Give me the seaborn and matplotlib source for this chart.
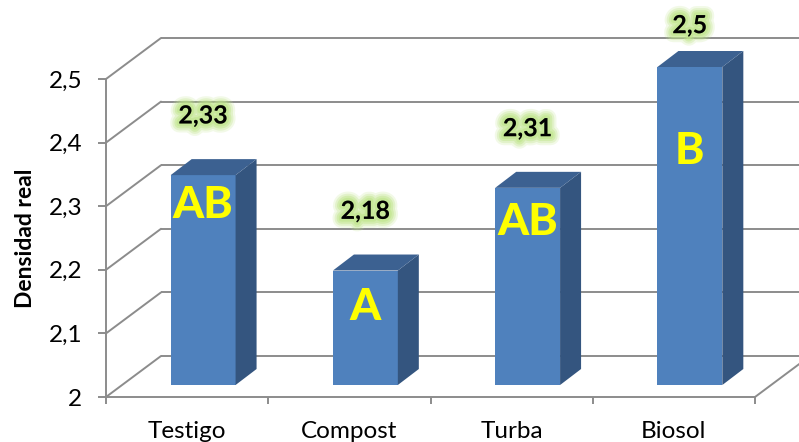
import matplotlib
matplotlib.use("Agg")
import matplotlib.pyplot as plt
import matplotlib.transforms as mtransforms
import matplotlib.patheffects as pe
from matplotlib.patches import Polygon
from matplotlib.lines import Line2D
import numpy as np
import pandas as pd
import seaborn as sns

# ---- data -------------------------------------------------------------
categories = ["Testigo", "Compost", "Turba", "Biosol"]
densidad = [2.33, 2.18, 2.31, 2.50]
value_labels = ["2,33", "2,18", "2,31", "2,5"]
grupos = ["AB", "A", "AB", "B"]
y_ticks = [2.0, 2.1, 2.2, 2.3, 2.4, 2.5]
y_tick_labels = ["2", "2,1", "2,2", "2,3", "2,4", "2,5"]

# ---- layout (pixels) --------------------------------------------------
W, H, DPI = 799, 442, 100
FRONT = (106, 45, 649, 318)      # front plane of the chart box: left, bottom, width, height
BAR_SHIFT = (16, 12)             # bars stand a little inside the floor
BAR_DEPTH = (21, 16)             # extrusion of each bar
WALL_DEPTH = (55, 41)            # depth of the floor / back wall
letter_drop = [0.047, 0.057, 0.054, 0.132]

FACE = "#4f81bd"
SIDE = "#34557f"
TOP = "#3c6191"
GRID = "#8c8c8c"
GLOW = "#bfe58a"

sns.set_theme(style="white")
plt.rcParams["font.family"] = ["Lato", "DejaVu Sans"]

fig = plt.figure(figsize=(W / DPI, H / DPI), dpi=DPI)
fig.patch.set_facecolor("white")


def px_rect(l, b, w, h):
    return [l / W, b / H, w / W, h / H]


ax = fig.add_axes(px_rect(*FRONT))
axb = fig.add_axes(px_rect(FRONT[0] + BAR_SHIFT[0], FRONT[1] + BAR_SHIFT[1],
                           FRONT[2], FRONT[3]))

df = pd.DataFrame({"Tratamiento": categories, "Densidad": densidad})
sns.barplot(data=df, x="Tratamiento", y="Densidad", ax=axb, width=0.4,
            color=FACE, saturation=1, edgecolor="none", zorder=3)

for a in (ax, axb):
    a.set_xlim(-0.5, len(categories) - 0.5)
    a.set_ylim(y_ticks[0], y_ticks[-1])
    a.patch.set_alpha(0)
axb.axis("off")
ax.set_zorder(0)
axb.set_zorder(1)

ident = mtransforms.IdentityTransform()
ymin = y_ticks[0]
xl, xr = ax.get_xlim()

# back wall gridlines and left-wall diagonals
wall = mtransforms.offset_copy(ax.transData, fig=fig, x=WALL_DEPTH[0],
                               y=WALL_DEPTH[1], units="dots")
for t in y_ticks:
    ax.plot([xl, xr], [t, t], transform=wall, color=GRID, lw=1.4,
            clip_on=False, zorder=0, solid_capstyle="butt")
    p0 = ax.transData.transform((xl, t))
    p1 = p0 + np.array(WALL_DEPTH)
    fig.add_artist(Line2D([p0[0], p1[0]], [p0[1], p1[1]], transform=ident,
                          color=GRID, lw=1.4, zorder=0))

# right edge of the floor
p0 = ax.transData.transform((xr, ymin))
p1 = p0 + np.array(WALL_DEPTH)
fig.add_artist(Line2D([p0[0], p1[0]], [p0[1], p1[1]], transform=ident,
                      color=GRID, lw=1.4, zorder=0))

# extrude the bars: side and top faces
D = np.array(BAR_DEPTH)
for patch, v in zip(axb.patches, densidad):
    x0 = patch.get_x()
    x1 = x0 + patch.get_width()
    tl = axb.transData.transform((x0, v))
    tr = axb.transData.transform((x1, v))
    br = axb.transData.transform((x1, ymin))
    side = Polygon([br, tr, tr + D, br + D], closed=True, transform=ident,
                   facecolor=SIDE, edgecolor="none", zorder=2)
    top = Polygon([tl, tr, tr + D, tl + D], closed=True, transform=ident,
                  facecolor=TOP, edgecolor="none", zorder=2)
    fig.add_artist(side)
    fig.add_artist(top)

# front axes: spines and ticks
for s in ("top", "right"):
    ax.spines[s].set_visible(False)
for s in ("left", "bottom"):
    ax.spines[s].set_color(GRID)
    ax.spines[s].set_linewidth(1.4)

ax.set_yticks(y_ticks, y_tick_labels)
ax.tick_params(axis="y", which="major", left=True, length=6, width=1.4,
               color=GRID, labelsize=17.5, pad=11, labelcolor="black")
ax.set_xticks(range(len(categories)), categories)
ax.set_xticks(np.arange(len(categories) + 1) - 0.5, minor=True)
ax.tick_params(axis="x", which="major", bottom=True, length=0,
               labelsize=17.5, pad=17, labelcolor="black")
ax.tick_params(axis="x", which="minor", bottom=True, length=5, width=1.4,
               color=GRID)
ax.set_xlabel("")
ax.set_ylabel("Densidad real", fontsize=16.5, fontweight="bold", color="black")
ax.yaxis.set_label_coords(-0.108, 0.5)

# value labels with a soft green glow
glow = [pe.Stroke(linewidth=13, foreground=GLOW, alpha=0.2, joinstyle="round"),
        pe.Stroke(linewidth=10, foreground=GLOW, alpha=0.3, joinstyle="round"),
        pe.Stroke(linewidth=7, foreground=GLOW, alpha=0.45, joinstyle="round"),
        pe.Stroke(linewidth=4, foreground=GLOW, alpha=0.6, joinstyle="round"),
        pe.Normal()]
for i, (v, lab) in enumerate(zip(densidad, value_labels)):
    axb.text(i, min(v + 0.093, 2.565), lab, ha="center", va="center",
             fontsize=18, fontweight="bold", color="black",
             path_effects=glow, clip_on=False, zorder=6)

# significance letters on the bars
for i, (v, g) in enumerate(zip(densidad, grupos)):
    axb.text(i, v - letter_drop[i], g, ha="center", va="center",
             fontsize=32, fontweight="black", color="#ffff00",
             clip_on=False, zorder=6)

fig.savefig("out.png", dpi=DPI, facecolor="white")
